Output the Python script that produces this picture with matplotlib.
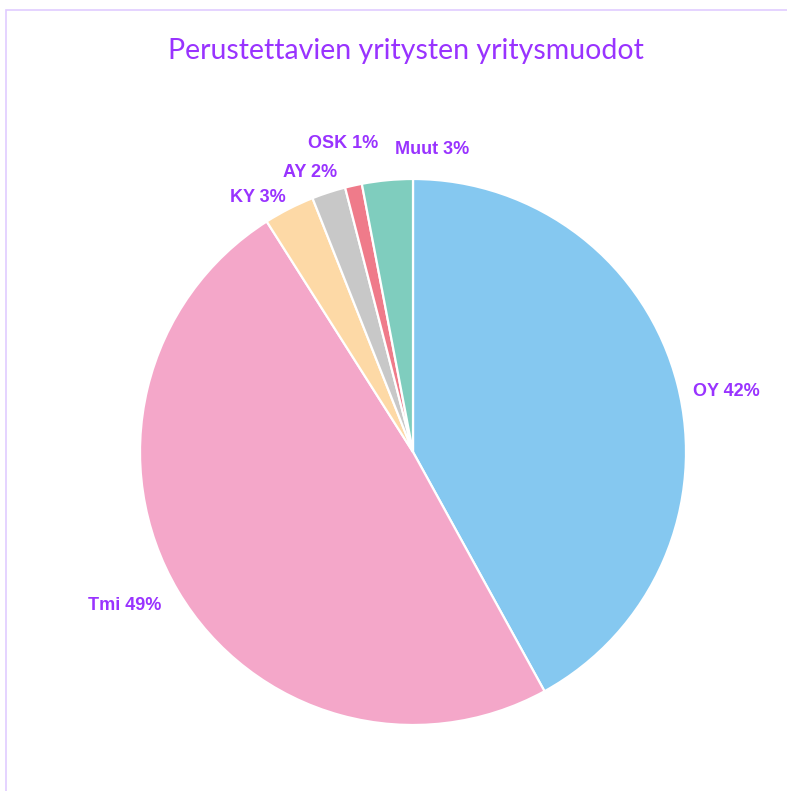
import numpy as np
import matplotlib.pyplot as plt
from matplotlib.patches import Rectangle

# tiedot
labels = ["OY", "Tmi", "KY", "AY", "OSK", "Muut"]
shares = [42, 49, 3, 2, 1, 3]
colors = ["#85C8F0", "#F4A7C9", "#FDD9A6", "#C8C8C8", "#EF7B8A", "#7FCDBE"]

# label placement tweaks (radius factor, angle shift in degrees)
lab_dist = [1.17, 1.19, 1.10, 1.10, 1.17, 1.12]
lab_shift = [-3, -3, 4, 2, 0, -9]

W, H = 787, 791
cx, cy, R = 413, H - 452, 273
purple = "#9933FF"

fig = plt.figure(figsize=(W / 100, H / 100), dpi=100)
ax = fig.add_axes([0, 0, 1, 1])
ax.set_xlim(0, W)
ax.set_ylim(0, H)
ax.set_aspect("equal")
ax.axis("off")

wedges, _ = ax.pie(shares, colors=colors, startangle=90, counterclock=False,
                   radius=R, center=(cx, cy),
                   wedgeprops=dict(edgecolor="white", linewidth=1.6))
ax.set_xlim(0, W)
ax.set_ylim(0, H)

for i, w in enumerate(wedges):
    ang = np.deg2rad((w.theta1 + w.theta2) / 2 + lab_shift[i])
    x = cx + R * lab_dist[i] * np.cos(ang)
    y = cy + R * lab_dist[i] * np.sin(ang) - 3
    ax.text(x, y, f"{labels[i]} {shares[i]}%", ha="center", va="center",
            fontsize=13, fontweight="bold", color=purple,
            family="Liberation Sans")

fig.text(406 / W, 1 - 51 / H, "Perustettavien yritysten yritysmuodot",
         ha="center", va="center", fontsize=20.5, color=purple, family="Lato")

# kehys
fig.patches.append(Rectangle((6 / W, -0.1), 1.2, 1 - 10 / H + 0.1,
                             transform=fig.transFigure, fill=False,
                             edgecolor="#E0CCFF", linewidth=1.2))

fig.savefig("out.png", dpi=100)
